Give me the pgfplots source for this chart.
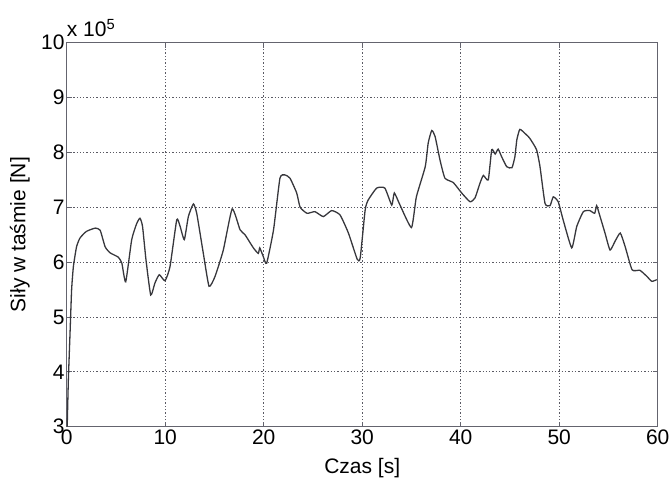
\documentclass[border=0pt]{standalone}
\usepackage{fontspec}
\setmainfont{Liberation Sans}
\usepackage{pgfplots}
\pgfplotsset{compat=1.18}
\definecolor{axgray}{RGB}{100,100,110}
\definecolor{gridgray}{RGB}{90,90,100}
\definecolor{curve}{RGB}{55,55,60}

\begin{document}
\begin{tikzpicture}
\begin{axis}[
    width=591bp, height=384bp, scale only axis,
    xmin=0, xmax=60, ymin=3, ymax=10,
    xtick={0,10,...,60}, ytick={3,4,...,10},
    grid=major, clip mode=individual,
    major grid style={gridgray, line width=0.9bp, dash pattern=on 1.3bp off 2bp},
    axis line style={axgray, line width=1.2bp},
    tick style={axgray, line width=0.8bp},
    major tick length=5bp, tick align=inside,
    /pgf/number format/assume math mode=true,
    tick label style={font=\fontsize{21bp}{25bp}\selectfont, text=black},
    yticklabel style={inner sep=2bp},
    xticklabel style={inner sep=3bp},
    xlabel={Czas [s]}, ylabel={Siły w taśmie [N]},
    every axis x label/.style={at={(axis description cs:0.5,0)}, yshift=-41bp, anchor=center,
        font=\fontsize{21bp}{25bp}\selectfont},
    every axis y label/.style={at={(axis description cs:0,0.5)}, xshift=-47bp, rotate=90, anchor=center,
        font=\fontsize{21bp}{25bp}\selectfont},
]
\addplot[curve, line width=1.3bp, smooth, tension=0.3] coordinates {
(0.05,3.0) (0.17,3.86) (0.34,4.71) (0.5,5.5) (0.68,5.92) (1.0,6.28) (1.35,6.44)
(2.0,6.56) (2.9,6.62) (3.4,6.58) (3.9,6.28) (4.4,6.17) (5.24,6.09) (5.6,5.98)
(5.99,5.64) (6.6,6.41) (7.1,6.7) (7.44,6.80) (7.7,6.65) (8.05,6.04) (8.53,5.40)
(8.96,5.62) (9.4,5.77) (9.98,5.66) (10.49,5.92) (11.17,6.77) (11.5,6.66)
(11.94,6.41) (12.35,6.83) (12.86,7.06) (13.2,6.89) (13.87,6.16) (14.45,5.56)
(15.06,5.74) (15.9,6.22) (16.8,6.97) (17.6,6.59) (18.1,6.50) (18.95,6.26)
(19.45,6.16) (19.6,6.26) (19.96,6.10) (20.3,5.98) (21.0,6.59) (21.65,7.53)
(22.16,7.59) (22.67,7.53) (23.35,7.26) (23.7,7.0) (24.4,6.89) (25.2,6.92)
(26.05,6.83) (26.9,6.94) (27.75,6.86) (28.6,6.53) (29.5,6.05) (29.8,6.08)
(30.3,6.95) (30.6,7.13) (31.47,7.35) (32.3,7.35) (33.0,7.04) (33.26,7.26)
(33.84,7.04) (35.0,6.63) (35.5,7.19) (36.4,7.74) (36.7,8.17) (37.06,8.40)
(37.4,8.29) (37.9,7.86) (38.4,7.53) (39.25,7.45) (40.1,7.26) (40.95,7.10)
(41.45,7.17) (41.96,7.44) (42.3,7.58) (42.8,7.50) (43.15,8.05) (43.5,7.97)
(43.8,8.06) (44.16,7.92) (44.67,7.74) (45.2,7.72) (45.5,7.92) (45.7,8.23)
(46.0,8.42) (46.5,8.35) (47.0,8.26) (47.7,8.05) (48.05,7.74) (48.56,7.07)
(49.07,7.03) (49.4,7.19) (49.9,7.10) (50.4,6.77) (51.27,6.26) (51.78,6.65)
(52.45,6.92) (53.1,6.94) (53.6,6.89) (53.8,7.03) (54.1,6.86) (54.65,6.53)
(55.16,6.22) (55.67,6.38) (56.2,6.53) (56.7,6.28) (57.4,5.86) (58.2,5.85)
(58.9,5.74) (59.4,5.65) (59.9,5.68)
};
\end{axis}
\node[anchor=base west, inner sep=0pt, yshift=5.7bp, font=\fontsize{21bp}{25bp}\selectfont]
  at (current axis.north west) {x 10\textsuperscript{5}};
\pgfresetboundingbox
\path ([shift={(-66.7bp,-54.3bp)}]current axis.south west)
  rectangle ([shift={(13.3bp,42.7bp)}]current axis.north east);
\end{tikzpicture}
\end{document}
